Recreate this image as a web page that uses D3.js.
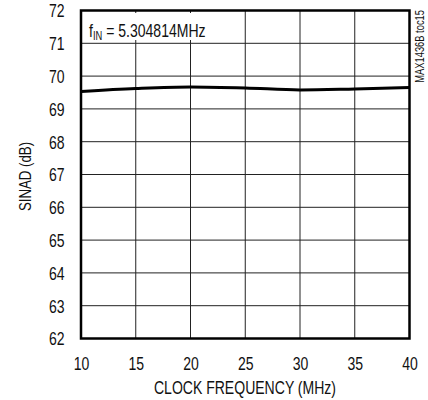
<!DOCTYPE html>
<html>
<head>
<meta charset="utf-8">
<script src="https://cdn.jsdelivr.net/npm/d3@7"></script>
<style>
html,body{margin:0;padding:0;background:#fff;}
svg{display:block;}
text{font-family:"Liberation Sans",Arial,sans-serif;fill:#111;}
</style>
</head>
<body>
<svg id="chart" width="428" height="400"></svg>
<script>
const clockFreq = [10, 15, 20, 25, 30, 35, 40];
const sinad = [69.53, 69.62, 69.67, 69.64, 69.58, 69.61, 69.65];
const xTicks = [10, 15, 20, 25, 30, 35, 40];
const yTicks = [62, 63, 64, 65, 66, 67, 68, 69, 70, 71, 72];

const svg = d3.select("#chart");
const L = 81, R = 409.5, T = 10.5, B = 338.5;
const x = d3.scaleLinear().domain([10, 40]).range([L, R]);
const y = d3.scaleLinear().domain([62, 72]).range([B, T]);
const SX = 0.78;

// grid
svg.append("g").selectAll("line").data(xTicks).join("line")
  .attr("x1", d => x(d)).attr("x2", d => x(d)).attr("y1", T).attr("y2", B)
  .attr("stroke", "#222").attr("stroke-width", 1);
svg.append("g").selectAll("line").data(yTicks).join("line")
  .attr("y1", d => y(d)).attr("y2", d => y(d)).attr("x1", L).attr("x2", R)
  .attr("stroke", "#222").attr("stroke-width", 1);

// annotation background
svg.append("rect").attr("x", 84).attr("y", 13).attr("width", 159).attr("height", 27).attr("fill", "#fff");
const ann = svg.append("text").attr("transform", `translate(89,37) scale(${SX},1)`).attr("font-size", 18);
ann.append("tspan").text("f");
ann.append("tspan").attr("font-size", 12).attr("dy", 3).text("IN");
ann.append("tspan").attr("dy", -3).text(" = 5.304814MHz");

// curve
const line = d3.line().x((d, i) => x(clockFreq[i])).y(d => y(d)).curve(d3.curveMonotoneX);
svg.append("path").datum(sinad).attr("d", line)
  .attr("fill", "none").attr("stroke", "#000").attr("stroke-width", 3);

// frame
svg.append("rect").attr("x", L).attr("y", T).attr("width", R - L).attr("height", B - T)
  .attr("fill", "none").attr("stroke", "#000").attr("stroke-width", 2.5);

// axes
const xAxis = d3.axisBottom(x).tickValues(xTicks).tickSize(0).tickPadding(0);
const gx = svg.append("g").attr("transform", `translate(0,${B})`).call(xAxis);
gx.select(".domain").remove();
gx.selectAll("text").attr("font-size", 18).attr("dy", null).attr("y", null)
  .attr("transform", `translate(0,31.5) scale(${SX},1)`)
  .style("font-family", '"Liberation Sans",Arial,sans-serif').attr("fill", "#111");

const yAxis = d3.axisLeft(y).tickValues(yTicks).tickSize(0).tickPadding(0);
const gy = svg.append("g").attr("transform", `translate(64.5,0)`).call(yAxis);
gy.select(".domain").remove();
gy.selectAll("text").attr("font-size", 18).attr("dy", "0.36em").attr("x", 0)
  .attr("transform", `scale(${SX},1)`)
  .style("font-family", '"Liberation Sans",Arial,sans-serif').attr("fill", "#111");

// titles
svg.append("text").attr("transform", `translate(${(157 + 333) / 2},394) scale(${SX},1)`).attr("text-anchor", "middle")
  .attr("font-size", 18).text("CLOCK FREQUENCY (MHz)");
svg.append("text").attr("transform", `translate(31,176.5) rotate(-90) scale(${SX},1)`).attr("text-anchor", "middle")
  .attr("font-size", 17).text("SINAD (dB)");
svg.append("text").attr("transform", `translate(424,10) rotate(-90) scale(${SX},1)`).attr("text-anchor", "end")
  .attr("font-size", 12).text("MAX1436B toc15");
</script>
</body>
</html>
